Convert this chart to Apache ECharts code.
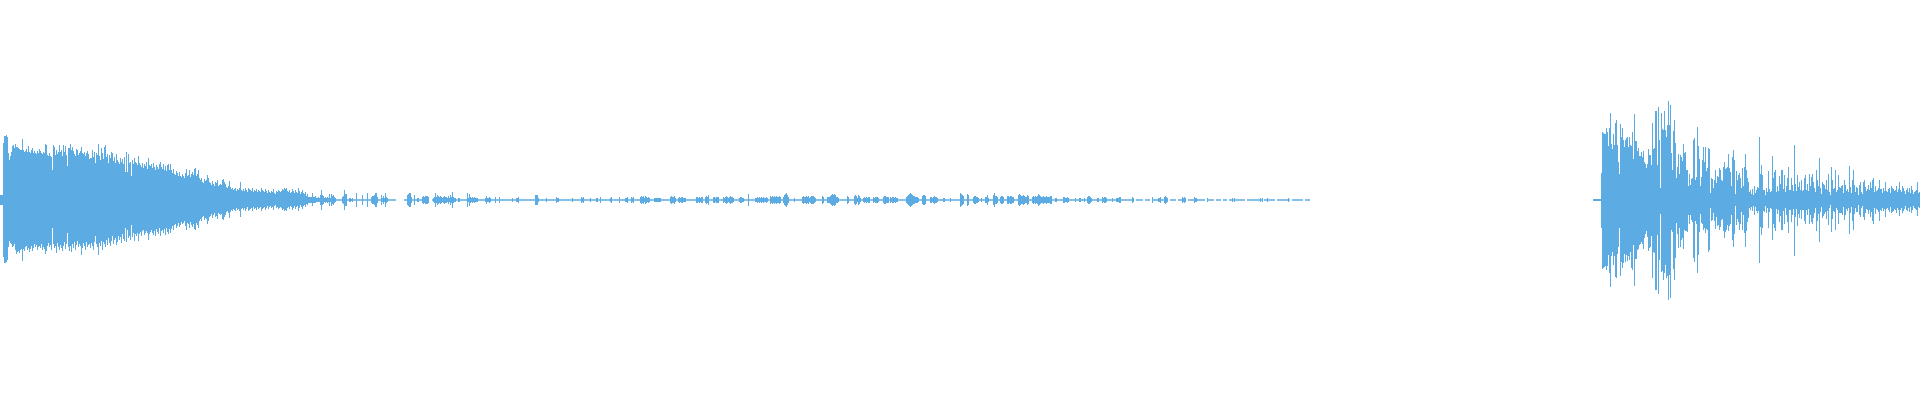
<!DOCTYPE html>
<html><head><meta charset="utf-8">
<style>html,body{margin:0;padding:0;background:#fff}#c{width:1920px;height:400px}</style>
<script src="https://cdn.jsdelivr.net/npm/echarts@6/dist/echarts.min.js"></script></head>
<body><div id="c"></div>
<script>
const COLUMNS = 1920, LEFT_END = 320, QUIET_END = 1310, RIGHT_START = 1593;
const leftUp = [5,5,5,57,64,64,65,63,47,40,44,48,54,55,52,56,53,53,52,51,50,50,61,50,48,49,51,48,54,48,47,50,52,47,49,47,46,49,47,51,49,47,46,48,47,56,55,45,44,47,44,43,30,55,53,45,50,46,48,55,48,50,44,55,48,54,45,34,52,52,56,50,53,49,46,44,51,50,45,47,49,53,47,46,48,44,47,49,46,41,42,42,50,43,48,37,47,45,56,44,40,52,47,41,53,55,43,46,37,45,42,48,47,39,43,37,46,40,38,36,42,38,41,36,43,28,48,28,46,37,38,24,40,36,42,38,37,35,44,37,35,33,37,32,36,34,38,31,42,35,34,36,32,37,33,30,35,33,31,36,38,33,31,36,30,34,29,35,36,30,36,30,27,31,26,25,29,27,24,28,24,23,26,24,22,27,31,24,25,30,23,26,28,25,31,32,24,26,30,22,20,22,18,17,21,19,20,25,22,18,17,15,19,16,14,18,17,20,14,15,16,15,20,21,18,16,13,12,14,19,13,11,12,10,11,12,9,11,10,12,18,10,9,11,9,12,10,8,12,11,10,9,12,8,10,9,11,8,10,9,8,12,10,9,8,11,9,7,10,8,7,9,8,11,7,6,9,8,10,9,8,9,11,10,12,11,12,9,8,10,7,8,11,9,7,10,8,7,12,9,6,8,10,7,6,8,4,6,3,3,3,3,7,3,3,4,2,2,3,2];
const leftDown = [5,5,5,57,63,63,62,60,47,41,43,44,47,46,44,50,54,52,51,53,50,49,61,49,51,47,46,50,48,52,49,46,51,48,44,47,45,50,47,46,48,44,50,47,49,54,51,46,43,47,45,50,28,44,48,46,53,43,47,50,45,48,51,46,42,49,44,33,47,51,46,52,44,48,42,50,45,41,47,44,46,55,48,43,46,50,42,47,45,44,48,43,46,50,42,36,44,47,55,43,46,41,50,42,44,47,40,45,38,43,46,41,36,44,40,38,45,42,36,40,37,43,34,39,41,28,42,30,38,36,40,25,37,33,41,34,36,33,41,34,32,36,31,30,35,33,31,33,40,34,32,30,33,35,31,36,29,32,34,28,36,31,30,33,29,35,28,32,34,29,33,29,26,30,25,24,28,26,23,27,25,22,24,23,21,26,30,23,24,28,22,25,27,24,29,30,23,25,28,21,19,21,17,16,20,18,19,24,21,17,16,14,18,15,13,17,16,19,13,14,15,14,19,20,17,15,12,11,13,18,12,10,11,9,10,11,8,10,9,11,17,9,8,10,8,11,9,7,11,10,9,8,11,7,9,8,10,7,9,8,7,11,9,8,7,10,8,6,9,7,6,8,7,10,6,5,8,7,9,8,7,8,10,9,11,10,11,8,7,9,6,7,10,8,6,9,7,6,11,8,5,7,9,6,5,7,4,5,3,3,3,3,6,3,3,3,2,2,2,2];
const quietClusters = [
 [320,[5,10,5,4,2,3,2,3,2,6,2,6,4,5,3,2]],[342,[3,4,10,6,6]],[349,[2,2,1,2]],[356,[7]],[362,[5]],[367,[7]],
 [371,[3,4,4,5,7,7,3]],[381,[5,2,4,2,7,3,2]],[407,[5,6,7,7,3]],[414,[5]],[417,[2,2]],[422,[3,4,3,4,4,4,3]],
 [433,[2,3,7,3,5,4,3,4,3,2,3,4,3,3,2,4,2,5,3,8,3,2,2]],[458,[2,2]],[467,[7,2,6,3,2,3,2,3,2,2,2]],[485,[2,4,2,2,3,2]],
 [495,[3]],[499,[3]],[512,[2]],[516,[2,2,3]],[535,[5,5,5,2]],[546,[2]],[556,[3,2,2]],[572,[2]],[581,[3,2,3]],[590,[2]],[596,[2,2]],
 [600,[3]],[610,[2,3]],[619,[3]],[625,[2,2,3]],[631,[3,2,3]],
 [640,[3,4,3,4,2,4,3,2,3,2]],[654,[2,2,2,2,2,2,2]],[670,[3,4,3,3,4,2]],[678,[2,3,2,3,3,2,2,2]],
 [696,[3,3,2,3,2,3,3]],[705,[3,4,3,5]],[713,[3,3,2,3,3,3]],[723,[3,2,3,4,3,2,3,4,3,3,2]],[739,[2,3,3,2,2]],[748,[6]],
 [755,[2,2,3,2,3,2,3,2,3,2,2,3,2]],[770,[4,3,4,3,4,3,4,3,3,4,3]],[783,[3,5,6,7,5,3]],[794,[2]],[802,[3,4,3,3,4,3,4,2,3,4,4,4,3,2]],
 [822,[4,3]],[827,[3,3,3,4,5,6,5,6,5,3,3,2]],[847,[4,3]],[854,[4,5,4,2,5,4,2]],[863,[2,3,2,3,2,3,3]],[873,[3,2,3,3,3,2]],
 [883,[3,4,4,3,3,3]],[890,[3,2,3,3,2,3,2,2]],[906,[3,4,5,6,7,6,5,4,4,3,3,3,2]],[922,[4,5,5,4]],[930,[3,3,2,3,4,3,3,2]],[943,[2,2]],[950,[2]],
 [960,[7,6,5,4]],[967,[6,5]],[973,[3,4,4,3,3,2]],[981,[2]],[985,[3,3,5,2]],[993,[5,7,4,4,3]],[1000,[3,4,4,3]],[1007,[4,4,3,4,4,3,3]],
 [1018,[5,6,5,4,4,5,4,3,3,5,4]],[1032,[3,4,3,4,3,4,6,5,4,3,3,4,3,3,4,3,3,3,4,4]],[1055,[2,2]],[1063,[3,3,2,2,3,2]],[1075,[2]],[1079,[2,2]],
 [1084,[2]],[1087,[3,4,4,3,2]],[1097,[2,2]],[1102,[3,2,3,3,2]],[1112,[2]],[1116,[2,2,2,3,3]],[1132,[3,2]],[1152,[3]],
 [1158,[2,2,3]],[1164,[3,4,3,2]],[1182,[3,2,3,2]],[1194,[3,2,2]],[1207,[2]],[1232,[2]],[1234,[2]],[1260,[2]],[1262,[2]],[1267,[2]],[1288,[2]]
];
const quietBase = 0.8;
const quietGapStart = [396,429,1133,1143,1150,1158,1168,1176,1186,1205,1214,1221,1227,1245,1262,1275,1290,1303];
const quietGapEnd = [403,431,1135,1144,1151,1159,1169,1177,1187,1206,1215,1222,1228,1246,1263,1276,1291,1304];
const rightUp = [1,1,1,1,1,1,1,1,27,68,67,66,66,72,68,54,72,87,56,51,66,55,77,80,55,38,26,76,63,72,60,53,60,62,63,53,63,55,54,68,41,86,59,59,49,52,44,44,48,43,49,38,36,32,36,51,45,45,35,77,51,52,89,89,35,93,60,12,87,71,70,89,70,63,75,99,75,95,47,30,69,80,57,22,33,46,26,45,43,39,56,47,48,30,30,14,26,15,21,22,60,62,20,23,73,54,41,14,23,40,53,38,53,29,32,52,51,7,22,21,12,20,30,17,24,23,32,30,20,19,33,38,31,32,33,46,32,28,14,43,50,40,6,29,20,25,27,22,12,32,14,33,46,30,22,18,8,10,6,11,5,14,7,10,13,12,63,26,35,25,10,10,5,12,8,29,11,8,9,44,22,28,30,8,14,9,24,16,30,30,11,25,8,14,22,33,10,10,22,15,9,55,16,9,25,13,18,10,20,9,10,22,25,10,16,9,26,14,23,26,18,12,8,30,20,14,42,12,6,18,16,15,11,20,10,26,8,5,33,20,11,12,30,8,10,25,13,12,14,15,7,20,15,9,11,8,34,13,7,20,30,15,8,13,12,5,15,18,8,6,18,20,13,9,11,15,10,18,12,20,22,8,14,9,10,12,20,11,11,7,12,9,18,9,8,11,12,7,14,12,11,9,10,14,8,11,18,10,8,14,12,9,6,10,12,8,12,7,14,10,6,8,9,10,18,7,8,10,12,20,7,14,10,21,11,7,13,18,12];
const rightDown = [1,1,1,1,1,1,1,1,28,69,68,67,66,70,66,55,73,87,56,52,65,56,77,78,54,47,28,76,62,68,63,54,62,55,61,56,60,52,68,70,45,86,59,59,50,49,45,44,42,44,49,38,34,31,37,51,48,47,36,78,52,53,90,90,35,94,60,14,72,71,80,73,65,78,76,100,75,98,30,32,69,80,58,23,34,48,28,47,40,38,49,30,31,31,32,15,24,15,20,22,58,62,21,24,73,55,32,14,23,24,30,28,33,29,30,52,50,8,21,20,13,21,29,17,26,25,30,27,20,19,31,38,32,30,25,31,26,24,15,40,47,34,6,25,19,22,30,24,12,30,15,33,47,31,22,18,8,10,7,11,6,15,7,11,13,11,63,27,35,28,11,12,6,13,8,28,12,8,9,40,24,28,31,9,14,10,22,16,30,30,11,24,8,15,22,33,10,10,22,15,9,56,17,9,26,14,18,10,19,10,10,21,24,10,15,9,24,15,22,24,18,13,8,31,21,14,42,12,7,18,16,14,12,19,11,25,8,5,32,19,11,12,30,8,10,24,13,13,13,15,7,20,15,9,11,8,34,13,7,21,30,14,8,12,12,5,15,17,8,6,17,20,13,9,10,14,10,17,12,21,24,8,14,9,10,12,21,10,11,8,11,9,17,9,8,10,12,7,13,12,11,9,10,13,8,10,16,10,8,13,11,9,6,10,11,8,12,7,13,10,6,8,9,10,16,7,8,10,11,16,7,13,10,15,11,7,12,14,11];

const categories = [], upValues = [], downValues = [];
const quiet = new Map();
quietClusters.forEach(([start, amps]) => amps.forEach((a, i) => quiet.set(start + i, a)));
for (let x = 0; x < COLUMNS; x++) {
  categories.push(x);
  let u = null, d = null;
  if (x < LEFT_END) { u = leftUp[x]; d = leftDown[x]; }
  else if (x < QUIET_END) {
    u = d = quiet.has(x) ? quiet.get(x) : quietBase;
    if (!quiet.has(x)) for (let g = 0; g < quietGapStart.length; g++)
      if (x >= quietGapStart[g] && x <= quietGapEnd[g]) u = d = null;
  } else if (x >= RIGHT_START) {
    const k = x - RIGHT_START;
    u = k < rightUp.length ? rightUp[k] : null;
    d = k < rightDown.length ? rightDown[k] : null;
  }
  upValues.push(u);
  downValues.push(d === null ? null : -d);
}
const COLOR = '#5dabe3';
const chart = echarts.init(document.getElementById('c'), null, {renderer:'canvas'});
const barStyle = {type:'bar', barWidth:1, barGap:'-100%', silent:true, animation:false, itemStyle:{color:COLOR}};
chart.setOption({
  animation:false,
  grid:{left:0,right:0,top:0,bottom:0},
  xAxis:{type:'category',data:categories,show:false,boundaryGap:true},
  yAxis:{type:'value',min:-200,max:200,show:false},
  series:[
    Object.assign({name:'up',data:upValues},barStyle),
    Object.assign({name:'down',data:downValues},barStyle)
  ]
});
</script></body></html>
